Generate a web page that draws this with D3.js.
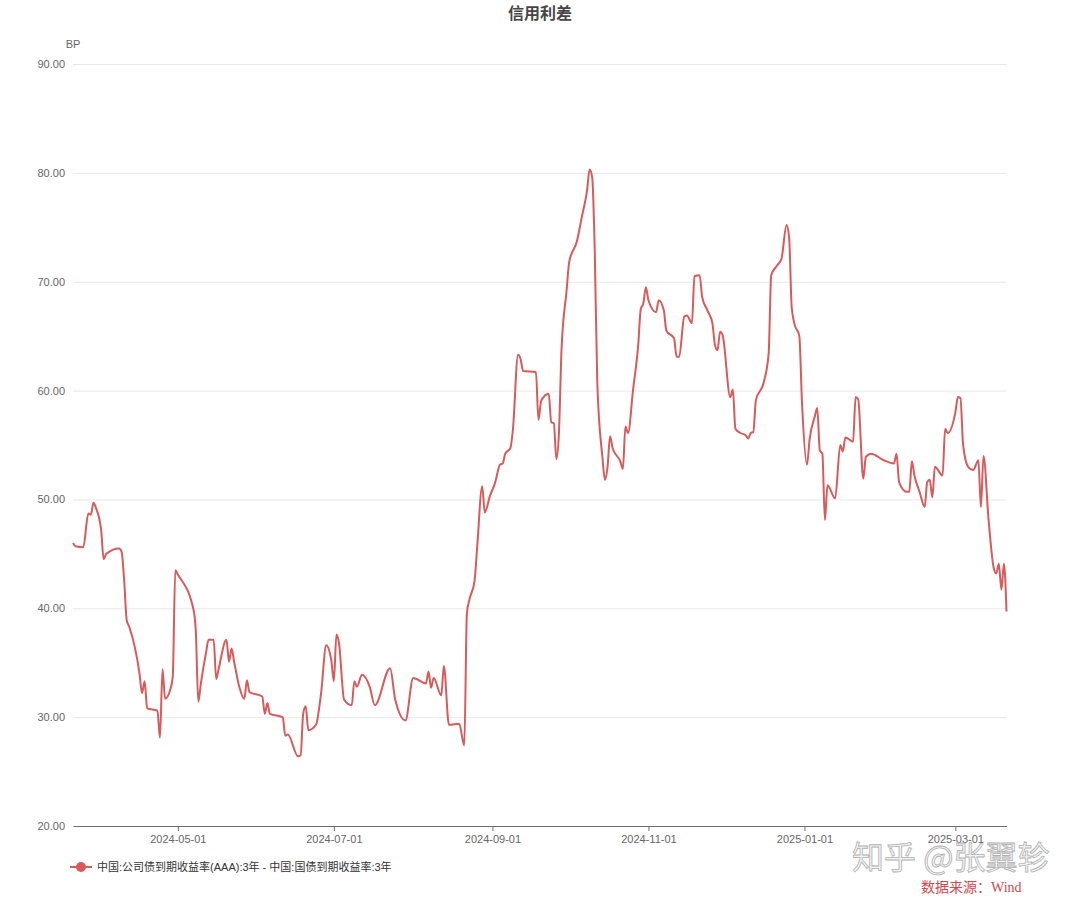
<!DOCTYPE html>
<html>
<head>
<meta charset="utf-8">
<title>信用利差</title>
<script src="https://cdn.jsdelivr.net/npm/d3@7/dist/d3.min.js"></script>
<style>
    html, body { margin: 0; padding: 0; background: #fff; }
    #chart { width: 1080px; height: 901px; }
</style>
</head>
<body>
<div id="chart"></div>
<script>
// 中国:公司债到期收益率(AAA):3年 - 中国:国债到期收益率:3年 (BP)
var dates = [
    "2024-03-21", "2024-03-22", "2024-03-25", "2024-03-27", "2024-03-28", "2024-03-29", "2024-03-30",
    "2024-04-01", "2024-04-02", "2024-04-03", "2024-04-08", "2024-04-09", "2024-04-10", "2024-04-11",
    "2024-04-12", "2024-04-16", "2024-04-17", "2024-04-18", "2024-04-19", "2024-04-23", "2024-04-24",
    "2024-04-25", "2024-04-26", "2024-04-28", "2024-04-29", "2024-04-30", "2024-05-01", "2024-05-07",
    "2024-05-08", "2024-05-09", "2024-05-10", "2024-05-12", "2024-05-13", "2024-05-15", "2024-05-16",
    "2024-05-17", "2024-05-20", "2024-05-21", "2024-05-22", "2024-05-23", "2024-05-25", "2024-05-27",
    "2024-05-28", "2024-05-29", "2024-06-03", "2024-06-04", "2024-06-05", "2024-06-06", "2024-06-11",
    "2024-06-12", "2024-06-13", "2024-06-17", "2024-06-18", "2024-06-19", "2024-06-20", "2024-06-21",
    "2024-06-24", "2024-06-26", "2024-06-28", "2024-06-30", "2024-07-01", "2024-07-02", "2024-07-03",
    "2024-07-05", "2024-07-08", "2024-07-09", "2024-07-10", "2024-07-12", "2024-07-15", "2024-07-17",
    "2024-07-23", "2024-07-25", "2024-07-29", "2024-08-01", "2024-08-06", "2024-08-07", "2024-08-08",
    "2024-08-09", "2024-08-12", "2024-08-13", "2024-08-15", "2024-08-19", "2024-08-21", "2024-08-22",
    "2024-08-23", "2024-08-25", "2024-08-26", "2024-08-28", "2024-08-29", "2024-08-31", "2024-09-02",
    "2024-09-04", "2024-09-05", "2024-09-06", "2024-09-08", "2024-09-09", "2024-09-11", "2024-09-12",
    "2024-09-13", "2024-09-18", "2024-09-19", "2024-09-20", "2024-09-21", "2024-09-23", "2024-09-24",
    "2024-09-25", "2024-09-26", "2024-09-27", "2024-09-28", "2024-09-30", "2024-10-01", "2024-10-04",
    "2024-10-06", "2024-10-08", "2024-10-09", "2024-10-10", "2024-10-11", "2024-10-12", "2024-10-14",
    "2024-10-15", "2024-10-16", "2024-10-17", "2024-10-18", "2024-10-21", "2024-10-22", "2024-10-23",
    "2024-10-24", "2024-10-26", "2024-10-28", "2024-10-29", "2024-10-30", "2024-10-31", "2024-11-01",
    "2024-11-04", "2024-11-05", "2024-11-07", "2024-11-08", "2024-11-11", "2024-11-12", "2024-11-13",
    "2024-11-15", "2024-11-16", "2024-11-18", "2024-11-19", "2024-11-21", "2024-11-22", "2024-11-24",
    "2024-11-26", "2024-11-27", "2024-11-28", "2024-11-29", "2024-11-30", "2024-12-03", "2024-12-04",
    "2024-12-05", "2024-12-07", "2024-12-09", "2024-12-10", "2024-12-11", "2024-12-12", "2024-12-13",
    "2024-12-16", "2024-12-18", "2024-12-19", "2024-12-21", "2024-12-23", "2024-12-25", "2024-12-26",
    "2024-12-27", "2024-12-28", "2024-12-30", "2024-12-31", "2025-01-02", "2025-01-03", "2025-01-05",
    "2025-01-06", "2025-01-07", "2025-01-08", "2025-01-09", "2025-01-10", "2025-01-13", "2025-01-15",
    "2025-01-16", "2025-01-17", "2025-01-20", "2025-01-21", "2025-01-22", "2025-01-24", "2025-01-25",
    "2025-01-27", "2025-02-01", "2025-02-05", "2025-02-06", "2025-02-07", "2025-02-10", "2025-02-11",
    "2025-02-12", "2025-02-13", "2025-02-15", "2025-02-17", "2025-02-18", "2025-02-19", "2025-02-20",
    "2025-02-21", "2025-02-24", "2025-02-25", "2025-02-26", "2025-03-01", "2025-03-02", "2025-03-03",
    "2025-03-04", "2025-03-06", "2025-03-08", "2025-03-10", "2025-03-11", "2025-03-12", "2025-03-14",
    "2025-03-16", "2025-03-17", "2025-03-18", "2025-03-19", "2025-03-20", "2025-03-21"
];

var spread = [
    46.0, 45.7, 45.6, 48.7, 48.6, 49.7, 49.2,
    47.2, 44.5, 45.0, 45.5, 45.2, 42.6, 38.9,
    38.3, 34.0, 32.2, 33.3, 30.8, 30.6, 28.1,
    34.4, 31.7, 32.5, 33.7, 43.5, 43.1, 40.0,
    38.0, 31.4, 33.1, 35.9, 37.1, 37.1, 33.5,
    34.5, 37.1, 35.1, 36.3, 35.1, 32.8, 31.7,
    33.4, 32.3, 31.9, 30.3, 31.3, 30.3, 30.0,
    28.3, 28.4, 26.4, 26.5, 30.3, 31.0, 28.8,
    29.3, 32.2, 36.6, 35.2, 33.3, 37.6, 36.8,
    31.6, 31.1, 33.3, 32.8, 33.9, 32.8, 31.1,
    34.5, 31.6, 29.7, 33.6, 33.1, 34.2, 32.7,
    33.6, 32.0, 34.7, 29.3, 29.4, 27.4, 39.5,
    40.8, 42.5, 45.5, 51.2, 48.8, 50.3, 51.5,
    53.2, 53.3, 54.2, 54.7, 56.4, 63.3, 62.9,
    61.8, 61.7, 57.3, 59.0, 59.4, 59.7, 57.1,
    57.0, 53.7, 56.1, 63.7, 69.2, 71.8, 73.7,
    76.0, 78.4, 80.3, 79.6, 72.9, 60.7, 53.9,
    51.8, 53.0, 55.8, 54.7, 53.5, 52.8, 56.7,
    56.1, 60.1, 64.2, 67.5, 68.0, 69.5, 68.3,
    67.2, 68.3, 67.4, 65.5, 64.8, 63.1, 63.1,
    66.8, 66.9, 66.2, 70.5, 70.6, 68.6, 67.4,
    66.2, 64.2, 63.7, 65.4, 65.1, 59.4, 60.1,
    56.5, 56.1, 55.9, 55.6, 56.1, 56.2, 59.1,
    60.7, 63.4, 70.6, 71.4, 72.1, 75.2, 74.1,
    67.7, 66.2, 65.0, 59.1, 53.2, 55.5, 57.6,
    58.4, 54.5, 54.2, 48.1, 51.3, 50.1, 55.0,
    54.4, 55.7, 55.3, 59.4, 59.2, 51.9, 53.9,
    54.2, 53.6, 53.3, 54.2, 51.6, 50.7, 50.7,
    53.5, 52.2, 50.7, 49.3, 51.6, 51.8, 50.2,
    53.0, 52.2, 56.5, 56.1, 58.0, 59.4, 59.3,
    55.1, 53.0, 52.7, 53.6, 49.3, 54.0, 48.1,
    43.7, 43.2, 44.1, 41.7, 44.1, 39.7
];

var yTicks = [20, 30, 40, 50, 60, 70, 80, 90];
var xTicks = ["2024-05-01", "2024-07-01", "2024-09-01", "2024-11-01", "2025-01-01", "2025-03-01"];

var chartTitle = "信用利差";
var yUnit = "BP";
var seriesName = "中国:公司债到期收益率(AAA):3年 - 中国:国债到期收益率:3年";
var watermark = "知乎 @张翼轸";
var sourceNote = "数据来源：Wind";

(function(d3) {

    "use strict";

    var parseDate = d3.timeParse("%Y-%m-%d");

    /**
     * Line chart in the style of the original export
     * @param {String} element container selector
     * @param {Object} options chart params
     */
    function SpreadChart(element, options) {
        this.element = element;
        this.options = Object.assign({
            width: 1080,
            height: 901,
            left: 73,
            right: 1006.5,
            top: 64,
            bottom: 826,
            color: "#d85a5b",
            axisColor: "#666",
            font: "'Liberation Sans', 'Noto Sans CJK SC', sans-serif"
        }, options);

        this.svg = null;
        this.x = null;
        this.y = null;
    }

    SpreadChart.prototype.init = function() {
        var o = this.options;

        this.svg = d3.select(this.element)
            .append("svg")
            .attr("width", o.width)
            .attr("height", o.height)
            .style("font-family", o.font);

        this.points = dates.map(function(d, i) {
            return { date: parseDate(d), value: spread[i] };
        });

        this.x = d3.scaleTime()
            .domain(d3.extent(this.points, function(d) { return d.date; }))
            .range([o.left, o.right]);

        this.y = d3.scaleLinear()
            .domain([20, 90])
            .range([o.bottom, o.top]);

        this.drawGrid();
        this.drawAxes();
        this.drawLine();
        this.drawText();
        this.drawLegend();
    };

    SpreadChart.prototype.drawGrid = function() {
        var o = this.options;

        var yAxis = d3.axisLeft(this.y)
            .tickValues(yTicks)
            .tickFormat(d3.format(".2f"))
            .tickSize(-(o.right - o.left))
            .tickPadding(8);

        var g = this.svg.append("g")
            .attr("class", "y-axis")
            .attr("transform", "translate(" + o.left + ",0)")
            .call(yAxis);

        g.select(".domain").remove();
        g.selectAll(".tick line")
            .attr("stroke", "#e8e8e8")
            .attr("stroke-width", 1);
        g.selectAll(".tick text")
            .attr("fill", o.axisColor)
            .style("font-size", "11px")
            .style("font-family", o.font);
    };

    SpreadChart.prototype.drawAxes = function() {
        var o = this.options;

        var xAxis = d3.axisBottom(this.x)
            .tickValues(xTicks.map(parseDate))
            .tickFormat(d3.timeFormat("%Y-%m-%d"))
            .tickSize(5)
            .tickSizeOuter(0)
            .tickPadding(4);

        var g = this.svg.append("g")
            .attr("class", "x-axis")
            .attr("transform", "translate(0," + o.bottom + ")")
            .call(xAxis);

        g.select(".domain").attr("stroke", "#6e6e6e");
        g.selectAll(".tick line").attr("stroke", "#6e6e6e");
        g.selectAll(".tick text")
            .attr("fill", o.axisColor)
            .style("font-size", "11px")
            .style("font-family", o.font);
    };

    SpreadChart.prototype.drawLine = function() {
        var x = this.x, y = this.y;

        var line = d3.line()
            .x(function(d) { return x(d.date); })
            .y(function(d) { return y(d.value); })
            .curve(d3.curveMonotoneX);

        this.svg.append("path")
            .datum(this.points)
            .attr("fill", "none")
            .attr("stroke", this.options.color)
            .attr("stroke-width", 2)
            .attr("stroke-linejoin", "round")
            .attr("d", line);
    };

    SpreadChart.prototype.drawText = function() {
        var o = this.options;

        this.svg.append("text")
            .attr("x", 540)
            .attr("y", 19)
            .attr("text-anchor", "middle")
            .attr("fill", "#464646")
            .style("font-size", "16px")
            .style("font-weight", "bold")
            .text(chartTitle);

        this.svg.append("text")
            .attr("x", 73)
            .attr("y", 48)
            .attr("text-anchor", "middle")
            .attr("fill", o.axisColor)
            .style("font-size", "11px")
            .text(yUnit);

        // watermark sits on top of the last date label, as in the source
        this.svg.append("text")
            .attr("x", 852)
            .attr("y", 869)
            .attr("fill", "#f4f4f4")
            .attr("stroke", "#b0b0b0")
            .attr("stroke-width", 0.8)
            .style("font-size", "32px")
            .style("font-family", "'Noto Sans CJK SC', sans-serif")
            .text(watermark);

        this.svg.append("text")
            .attr("x", 921)
            .attr("y", 892)
            .attr("fill", "#d4474a")
            .style("font-size", "14px")
            .style("font-family", "'Liberation Serif', 'Noto Sans CJK SC', serif")
            .text(sourceNote);
    };

    SpreadChart.prototype.drawLegend = function() {
        var g = this.svg.append("g")
            .attr("class", "legend")
            .attr("transform", "translate(70,867)");

        g.append("line")
            .attr("x1", 0).attr("x2", 22)
            .attr("stroke", this.options.color)
            .attr("stroke-width", 2);

        g.append("circle")
            .attr("cx", 11)
            .attr("r", 5)
            .attr("fill", this.options.color);

        g.append("text")
            .attr("x", 27)
            .attr("y", 4)
            .attr("fill", "#333")
            .style("font-size", "11px")
            .text(seriesName);
    };

    var chart = new SpreadChart("#chart", {});
    chart.init();

})(d3);
</script>
</body>
</html>
